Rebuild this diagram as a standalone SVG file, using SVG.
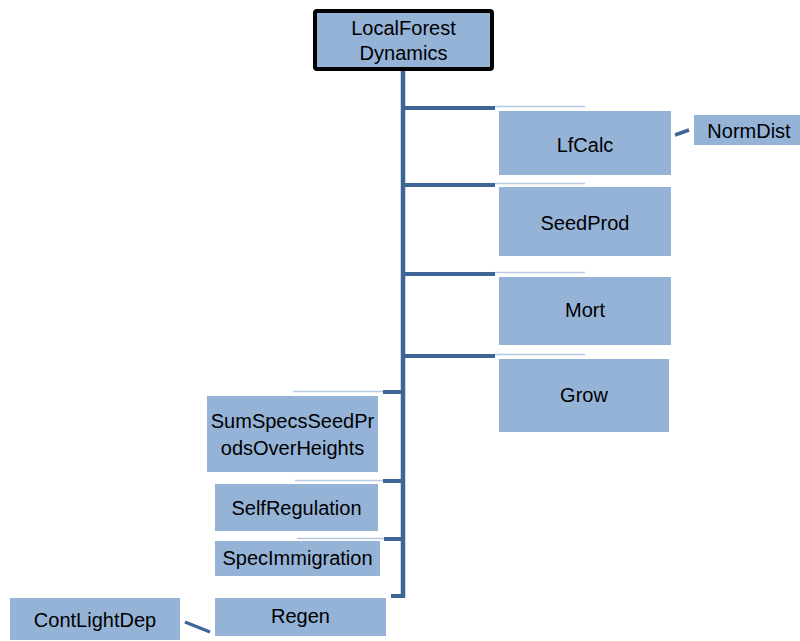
<svg xmlns="http://www.w3.org/2000/svg" width="800" height="641" viewBox="0 0 800 641">
  <style>
    .box { fill: #95B3D7; }
    .root { fill: #95B3D7; stroke: #000000; stroke-width: 4; }
    .lbl { font-family: "Liberation Sans", Arial, sans-serif; font-size: 20px; fill: #000000; text-anchor: middle; }
    .trunk { stroke: #3F6597; stroke-width: 4.5; fill: none; }
    .stub { stroke: #3F6597; stroke-width: 4; fill: none; }
    .hair { stroke: #B7C9E2; stroke-width: 1.5; fill: none; }
    .link { stroke: #3F6597; stroke-width: 3.5; fill: none; }
  </style>

  <rect width="800" height="641" fill="#FFFFFF"/>

  <!-- connectors -->
  <g id="connectors">
    <line class="trunk" x1="403" y1="70" x2="403" y2="598"/>
    <!-- right-hand branches -->
    <line class="stub" x1="403" y1="108" x2="495" y2="108"/>
    <line class="hair" x1="495" y1="106.5" x2="585" y2="106.5"/>
    <line class="stub" x1="403" y1="185" x2="495" y2="185"/>
    <line class="hair" x1="495" y1="183.5" x2="585" y2="183.5"/>
    <line class="stub" x1="403" y1="274" x2="495" y2="274"/>
    <line class="hair" x1="495" y1="272.5" x2="585" y2="272.5"/>
    <line class="stub" x1="403" y1="356" x2="495" y2="356"/>
    <line class="hair" x1="495" y1="354.5" x2="585" y2="354.5"/>
    <!-- left-hand branches -->
    <line class="stub" x1="383" y1="392" x2="403" y2="392"/>
    <line class="hair" x1="293" y1="391.5" x2="383" y2="391.5"/>
    <line class="stub" x1="383" y1="481" x2="403" y2="481"/>
    <line class="hair" x1="295" y1="480.5" x2="383" y2="480.5"/>
    <line class="stub" x1="384" y1="539" x2="403" y2="539"/>
    <line class="hair" x1="297" y1="538.5" x2="384" y2="538.5"/>
    <line class="stub" x1="391" y1="596" x2="403" y2="596"/>
    <!-- side links -->
    <line class="link" x1="675" y1="135" x2="689" y2="130"/>
    <line class="link" x1="185" y1="622" x2="210" y2="632"/>
  </g>

  <g id="LocalForestDynamics">
    <rect class="root" x="315" y="11" width="177" height="58" rx="2"/>
    <text class="lbl" x="403.5" y="35">LocalForest</text>
    <text class="lbl" x="403.5" y="60">Dynamics</text>
  </g>

  <g id="LfCalc">
    <rect class="box" x="499" y="111" width="172" height="64"/>
    <text class="lbl" x="585" y="152">LfCalc</text>
  </g>

  <g id="NormDist">
    <rect class="box" x="694" y="115" width="110" height="30"/>
    <text class="lbl" x="749" y="138">NormDist</text>
  </g>

  <g id="SeedProd">
    <rect class="box" x="499" y="187" width="172" height="69"/>
    <text class="lbl" x="585" y="230">SeedProd</text>
  </g>

  <g id="Mort">
    <rect class="box" x="499" y="277" width="172" height="68"/>
    <text class="lbl" x="585" y="317">Mort</text>
  </g>

  <g id="Grow">
    <rect class="box" x="499" y="359" width="170" height="73"/>
    <text class="lbl" x="584" y="402">Grow</text>
  </g>

  <g id="SumSpecsSeedProdsOverHeights">
    <rect class="box" x="207" y="396" width="171" height="76"/>
    <text class="lbl" x="292.5" y="428">SumSpecsSeedPr</text>
    <text class="lbl" x="292.5" y="455">odsOverHeights</text>
  </g>

  <g id="SelfRegulation">
    <rect class="box" x="215" y="484" width="163" height="47"/>
    <text class="lbl" x="296.5" y="515">SelfRegulation</text>
  </g>

  <g id="SpecImmigration">
    <rect class="box" x="215" y="541" width="165" height="35"/>
    <text class="lbl" x="297.5" y="565">SpecImmigration</text>
  </g>

  <g id="Regen">
    <rect class="box" x="215" y="598" width="171" height="38"/>
    <text class="lbl" x="300.5" y="623">Regen</text>
  </g>

  <g id="ContLightDep">
    <rect class="box" x="10" y="598" width="170" height="42"/>
    <text class="lbl" x="95" y="627">ContLightDep</text>
  </g>
</svg>
